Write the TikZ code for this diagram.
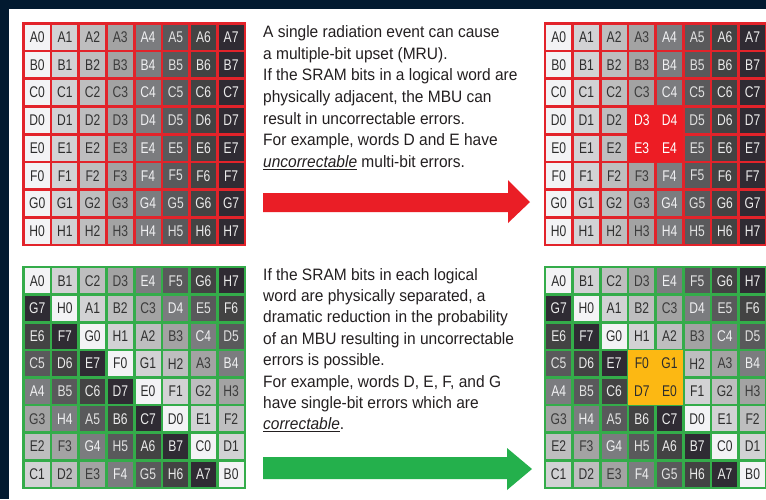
\documentclass[tikz,border=0pt]{standalone}
\usepackage{fontspec}
\setmainfont[FakeStretch=0.94]{Liberation Sans}
\newfontfamily\cellfont[FakeStretch=0.78]{Liberation Sans}
\definecolor{navy}{RGB}{2,26,48}
\definecolor{frred}{RGB}{226,35,42}
\definecolor{frgreen}{RGB}{52,172,74}
\definecolor{hired}{RGB}{237,28,36}
\definecolor{hiyel}{RGB}{252,184,19}
\definecolor{arrred}{RGB}{234,30,38}
\definecolor{arrgreen}{RGB}{36,176,76}
\definecolor{g0}{RGB}{243,243,245}
\definecolor{g1}{RGB}{210,210,212}
\definecolor{g2}{RGB}{190,190,191}
\definecolor{g3}{RGB}{163,163,163}
\definecolor{g4}{RGB}{123,124,127}
\definecolor{g5}{RGB}{89,89,91}
\definecolor{g6}{RGB}{67,67,67}
\definecolor{g7}{RGB}{47,43,51}
\definecolor{t0}{RGB}{45,45,45}
\definecolor{t1}{RGB}{45,45,45}
\definecolor{t2}{RGB}{50,50,50}
\definecolor{t3}{RGB}{60,60,60}
\definecolor{t4}{RGB}{240,240,242}
\definecolor{t5}{RGB}{225,225,225}
\definecolor{t6}{RGB}{235,235,235}
\definecolor{t7}{RGB}{235,235,235}
\definecolor{bodytext}{RGB}{35,31,32}
\newcommand\lettr[1]{\ifcase#1 A\or B\or C\or D\or E\or F\or G\or H\fi}
\tikzset{
  cell/.style={inner sep=0pt, minimum width=25pt, minimum height=25pt,
    font=\cellfont\fontsize{15.5}{15.5}\selectfont},
  hlcell/.style={cell, minimum width=27.7pt, minimum height=27.7pt},
  txt/.style={anchor=base west, inner sep=0pt, text=bodytext,
    font=\fontsize{16.5}{20}\selectfont}
}
\begin{document}
\begin{tikzpicture}[x=1pt,y=-1pt]
\useasboundingbox (0,0) rectangle (766,499);
\fill[navy] (0,0) rectangle (766,499);
\fill[white] (9,9) rectangle (766,499);

% ---------- top-left grid ----------
\fill[frred] (22,22) rectangle ++(224.3,224.3);
\foreach \r/\L in {0/A,1/B,2/C,3/D,4/E,5/F,6/G,7/H}
  \foreach \c in {0,...,7}
    \node[cell, fill=g\c, text=t\c] (tl-\r-\c) at ({22+15.2+27.7*\c},{22+15.2+27.7*\r}) {\L\c};

% ---------- top-right grid ----------
\fill[frred] (543.5,22) rectangle ++(224.3,224.3);
\foreach \r/\L in {0/A,1/B,2/C,3/D,4/E,5/F,6/G,7/H}
  \foreach \c in {0,...,7}{
    \pgfmathtruncatemacro\hl{((\r==3)||(\r==4))&&((\c==3)||(\c==4))}
    \ifnum\hl=1
      \node[hlcell, fill=hired, text=white] (tr-\r-\c) at ({543.5+15.2+27.7*\c},{22+15.2+27.7*\r}) {\L\c};
    \else
      \node[cell, fill=g\c, text=t\c] (tr-\r-\c) at ({543.5+15.2+27.7*\c},{22+15.2+27.7*\r}) {\L\c};
    \fi
  }

% ---------- bottom-left grid ----------
\fill[frgreen] (22,265.7) rectangle ++(224.3,223.6);
\foreach \r in {0,...,7}
  \foreach \c in {0,...,7}{
    \pgfmathtruncatemacro\li{mod(\c-2*\r+16,8)}
    \pgfmathtruncatemacro\di{mod(\c-\r+8,8)}
    \node[cell, fill=g\di, text=t\di] (bl-\r-\c) at ({22+15.2+27.7*\c},{265.7+15.1+27.6*\r}) {\lettr{\li}\di};
  }

% ---------- bottom-right grid ----------
\fill[frgreen] (543.5,265.7) rectangle ++(224.3,223.6);
\foreach \r in {0,...,7}
  \foreach \c in {0,...,7}{
    \pgfmathtruncatemacro\li{mod(\c-2*\r+16,8)}
    \pgfmathtruncatemacro\di{mod(\c-\r+8,8)}
    \pgfmathtruncatemacro\hl{((\r==3)||(\r==4))&&((\c==3)||(\c==4))}
    \ifnum\hl=1
      \node[hlcell, fill=hiyel, text=t0] (br-\r-\c) at ({543.5+15.2+27.7*\c},{265.7+15.1+27.6*\r}) {\lettr{\li}\di};
    \else
      \node[cell, fill=g\di, text=t\di] (br-\r-\c) at ({543.5+15.2+27.7*\c},{265.7+15.1+27.6*\r}) {\lettr{\li}\di};
    \fi
  }

% ---------- top text ----------
\node[txt] (ta1) at (263,37.3)  {A single radiation event can cause};
\node[txt] (ta2) at (263,59.0)  {a multiple-bit upset (MRU).};
\node[txt] (ta3) at (263,80.7)  {If the SRAM bits in a logical word are};
\node[txt] (ta4) at (263,102.3) {physically adjacent, the MBU can};
\node[txt] (ta5) at (263,124.0) {result in uncorrectable errors.};
\node[txt] (ta6) at (263,145.7) {For example, words D and E have};
\node[txt] (ta7) at (263,167.3) {\underline{\textit{uncorrectable}} multi-bit errors.};

% ---------- bottom text ----------
\node[txt] (tb1) at (263,280.0) {If the SRAM bits in each logical};
\node[txt] (tb2) at (263,301.4) {word are physically separated, a};
\node[txt] (tb3) at (263,322.8) {dramatic reduction in the probability};
\node[txt] (tb4) at (263,344.2) {of an MBU resulting in uncorrectable};
\node[txt] (tb5) at (263,365.6) {errors is possible.};
\node[txt] (tb6) at (263,387.0) {For example, words D, E, F, and G};
\node[txt] (tb7) at (263,408.4) {have single-bit errors which are};
\node[txt] (tb8) at (263,429.8) {\underline{\textit{correctable}}.};

% ---------- arrows ----------
\fill[arrred] (263,193) -- (508,193) -- (508,180) -- (530,202) -- (508,223)
  -- (508,212) -- (263,212) -- cycle;
\fill[arrgreen] (263,457) -- (507,457) -- (507,448) -- (532,469) -- (507,490)
  -- (507,479) -- (263,479) -- cycle;
\end{tikzpicture}
\end{document}
